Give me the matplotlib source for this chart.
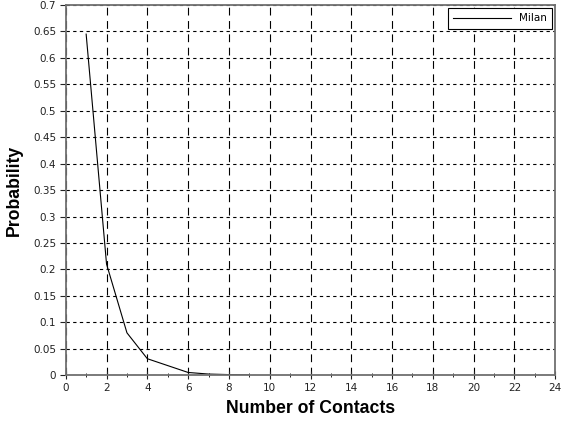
import matplotlib
matplotlib.use("Agg")
import matplotlib.pyplot as plt
from matplotlib.ticker import MultipleLocator

plt.rcParams["font.family"] = ["Liberation Sans", "DejaVu Sans"]

# --- data ---
contacts = [1, 2, 3, 4, 5, 6, 7, 8, 9]
prob_milan = [0.645, 0.21, 0.08, 0.031, 0.018, 0.005, 0.002, 0.001, 0.0005]

fig = plt.figure(figsize=(5.62, 4.21), dpi=100)
ax = fig.add_axes([0.117, 0.109, 0.871, 0.879])

ax.plot(contacts, prob_milan, color="black", lw=0.8, label="Milan")

ax.set_xlim(0, 24)
ax.set_ylim(0, 0.7)
ax.xaxis.set_major_locator(MultipleLocator(2))
ax.xaxis.set_minor_locator(MultipleLocator(1))
ax.yaxis.set_major_locator(MultipleLocator(0.05))
ax.set_yticklabels([f"{v:g}" for v in ax.get_yticks()])

# grid: short dashes horizontally, long dashes vertically
ax.grid(axis="y", color="black", lw=0.8, linestyle=(0, (3, 3)))
ax.grid(axis="x", color="black", lw=0.8, linestyle=(0, (7, 5)))

for s in ax.spines.values():
    s.set_color("#707070")
    s.set_linewidth(1.3)

for lbl in ax.get_xticklabels() + ax.get_yticklabels():
    lbl.set_family(["DejaVu Sans"])
ax.tick_params(axis="both", labelsize=7.5, colors="#222222")
ax.tick_params(axis="x", which="major", direction="inout", length=6, pad=3)
ax.tick_params(axis="x", which="minor", direction="inout", length=3)
ax.tick_params(axis="y", which="major", direction="out", length=4, pad=3)
ax.tick_params(top=False, right=False)

ax.set_xlabel("Number of Contacts", fontsize=12.7, fontweight="bold", labelpad=5)
ax.set_ylabel("Probability", fontsize=12.7, fontweight="bold", labelpad=7)

leg = ax.legend(loc="upper right", prop={"family": "DejaVu Sans", "size": 7.5},
                fancybox=False, framealpha=1, edgecolor="black",
                handlelength=5.5, borderpad=0.5, borderaxespad=0.3)
leg.get_frame().set_linewidth(0.8)

fig.savefig("out.png", dpi=100)
